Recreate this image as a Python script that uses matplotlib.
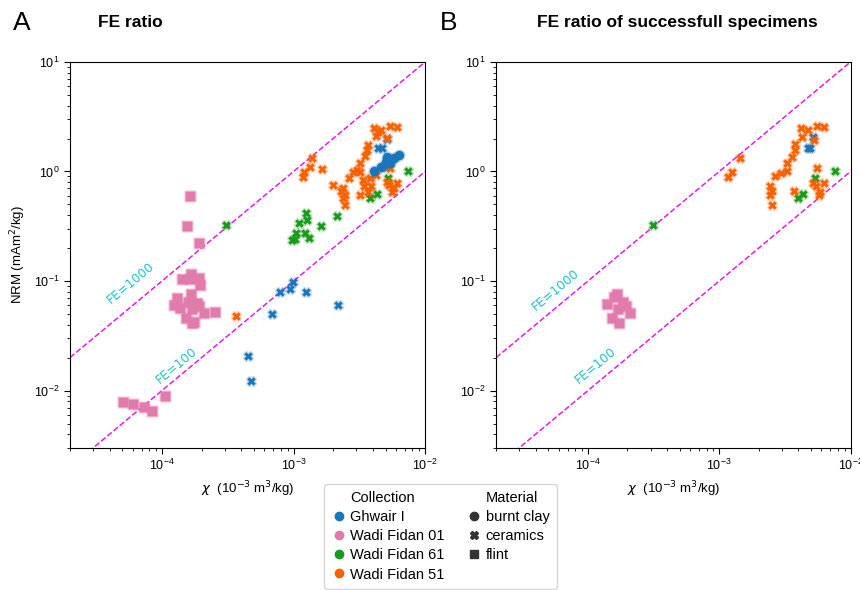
import numpy as np
import matplotlib
matplotlib.use('Agg')
import matplotlib.pyplot as plt
from matplotlib.lines import Line2D
from matplotlib.colors import to_rgba

plt.rcParams['font.family'] = ['Liberation Sans', 'DejaVu Sans']

# colours per collection
collections = ['Ghwair I', 'Wadi Fidan 01', 'Wadi Fidan 61', 'Wadi Fidan 51']
col_colors = ['#1b75bb', '#e17bac', '#1a9a1a', '#f86100']
materials = ['burnt clay', 'ceramics', 'flint']
mat_markers = ['o', 'X', 's']

# ---- panel A : all specimens ----
a_gh_clay_chi = [6.35e-3, 5.75e-3, 5.1e-3, 5.0e-3, 4.61e-3, 4.05e-3, 5.4e-3]
a_gh_clay_nrm = [1.41, 1.34, 1.36, 1.23, 1.11, 1.0, 1.19]
a_gh_cer_chi = [4.67e-3, 4.35e-3, 5.1e-3, 9.9e-4, 7.87e-4, 9.33e-4, 1.24e-3,
                2.18e-3, 6.81e-4, 4.54e-4, 4.78e-4, 5.05e-3]
a_gh_cer_nrm = [1.65, 1.63, 1.98, 0.0986, 0.0798, 0.084, 0.0789,
                0.060, 0.050, 0.0206, 0.0123, 1.1]
a_wf01_chi = [1.64e-4, 1.55e-4, 1.90e-4, 1.66e-4, 1.43e-4, 1.92e-4, 1.62e-4,
              1.96e-4, 1.66e-4, 1.31e-4, 1.24e-4, 1.38e-4, 1.58e-4, 1.84e-4,
              1.92e-4, 1.70e-4, 2.08e-4, 2.53e-4, 1.53e-4, 1.70e-4, 1.75e-4,
              5.09e-5, 6.03e-5, 7.26e-5, 8.4e-5, 1.06e-4]
a_wf01_nrm = [0.60, 0.318, 0.224, 0.117, 0.104, 0.107, 0.104,
              0.0914, 0.076, 0.0695, 0.060, 0.0563, 0.0647, 0.063,
              0.059, 0.0552, 0.0507, 0.052, 0.0456, 0.0416, 0.0425,
              0.00785, 0.00748, 0.00711, 0.00646, 0.00885]
a_wf61_chi = [3.09e-4, 1.25e-3, 1.10e-3, 1.27e-3, 1.62e-3, 2.15e-3, 1.05e-3,
              1.22e-3, 1.32e-3, 1.02e-3, 9.8e-4, 7.34e-3, 3.83e-3, 4.27e-3, 5.2e-3]
a_wf61_nrm = [0.327, 0.415, 0.339, 0.358, 0.318, 0.392, 0.272,
              0.272, 0.248, 0.24, 0.237, 1.02, 0.576, 0.619, 0.87]
a_wf51_chi = [3.63e-4, 4.05e-3, 4.6e-3, 5.37e-3, 6.1e-3, 4.2e-3, 5.1e-3, 4.4e-3,
              3.66e-3, 3.6e-3, 3.5e-3, 3.22e-3, 3.04e-3, 2.83e-3, 2.62e-3,
              3.22e-3, 3.8e-3, 4.25e-3, 3.35e-3, 3.4e-3, 3.85e-3, 3.7e-3, 3.2e-3,
              2.0e-3, 2.39e-3, 2.3e-3, 2.47e-3, 2.37e-3, 2.47e-3,
              5.27e-3, 6.1e-3, 5.4e-3, 5.1e-3, 5.6e-3, 5.75e-3,
              1.39e-3, 1.33e-3, 1.21e-3, 1.17e-3, 1.65e-3]
a_wf51_nrm = [0.048, 2.48, 2.39, 2.6, 2.53, 2.12, 2.04, 2.3,
              1.75, 1.57, 1.39, 1.19, 1.03, 0.98, 0.877,
              0.98, 0.877, 0.93, 0.836, 0.737, 0.737, 0.654, 0.61,
              0.753, 0.711, 0.664, 0.61, 0.577, 0.495,
              0.753, 0.78, 1.07, 0.807, 0.654, 0.70,
              1.32, 1.11, 0.98, 0.896, 1.05]

# ---- panel B : successful specimens ----
b_gh_cer_chi = [4.75e-3, 4.9e-3, 5.2e-3]
b_gh_cer_nrm = [1.63, 1.63, 2.08]
b_wf01_chi = [1.66e-4, 1.59e-4, 1.40e-4, 1.94e-4, 1.84e-4, 1.70e-4, 2.08e-4, 1.52e-4, 1.72e-4]
b_wf01_nrm = [0.0756, 0.071, 0.0613, 0.0595, 0.065, 0.055, 0.0507, 0.0456, 0.0418]
b_wf61_chi = [3.12e-4, 7.6e-3, 4.35e-3, 4.0e-3, 5.4e-3]
b_wf61_nrm = [0.324, 1.02, 0.62, 0.577, 0.88]
b_wf51_chi = [4.22e-3, 4.75e-3, 5.6e-3, 6.3e-3, 4.25e-3, 5.3e-3, 3.76e-3, 3.76e-3,
              3.6e-3, 3.3e-3, 3.3e-3, 2.96e-3, 2.68e-3, 2.42e-3, 2.5e-3, 2.45e-3,
              2.5e-3, 3.7e-3, 5.6e-3, 5.2e-3, 6.3e-3, 5.5e-3, 5.9e-3, 5.8e-3,
              1.43e-3, 1.24e-3, 1.17e-3]
b_wf51_nrm = [2.48, 2.39, 2.6, 2.53, 2.08, 1.94, 1.77, 1.57,
              1.36, 1.2, 1.01, 0.96, 0.90, 0.742, 0.664, 0.61,
              0.495, 0.664, 1.07, 0.78, 0.78, 0.73, 0.654, 0.61,
              1.32, 0.98, 0.896]

fe_values = [1000, 100]


def halo(c):
    r, g, b, _ = to_rgba(c)
    return (r, g, b, 0.28)


def draw_group(ax, chi, nrm, ci, mi):
    c = col_colors[ci]
    size = {'o': 46, 'X': 36, 's': 44}[mat_markers[mi]]
    ax.scatter(chi, nrm, s=size, marker=mat_markers[mi], color=c,
               edgecolors=[halo(c)], linewidths=2.0, zorder=3)


def style_axes(ax, letter, fe_pos):
    ax.set_xscale('log')
    ax.set_yscale('log')
    ax.set_xlim(2e-5, 1e-2)
    ax.set_ylim(3e-3, 10)
    xs = np.array([2e-5, 1e-2])
    for fe, (tx, ty) in zip(fe_values, fe_pos):
        ax.plot(xs, xs * fe, color='#e619e6', ls='--', lw=1.1, zorder=2)
        ax.text(tx, ty, 'FE=%d' % fe, color='#1cc2c8', fontsize=9,
                rotation=39.7, ha='center', va='center',
                family='DejaVu Sans')
    ax.set_xlabel(r'$\chi$  (10$^{-3}$ m$^3$/kg)', fontsize=9.5)
    ax.tick_params(which='major', labelsize=9, length=4, direction='out')
    ax.tick_params(which='minor', length=2)
    ax.text(-0.16, 1.1, letter, transform=ax.transAxes, fontsize=19,
            va='center', ha='left')


fig = plt.figure(figsize=(8.6, 5.9), dpi=100)
axA = fig.add_axes([0.0814, 0.241, 0.413, 0.654])
axB = fig.add_axes([0.577, 0.241, 0.412, 0.654])

draw_group(axA, a_wf01_chi, a_wf01_nrm, 1, 2)
draw_group(axA, a_wf61_chi, a_wf61_nrm, 2, 1)
draw_group(axA, a_gh_cer_chi, a_gh_cer_nrm, 0, 1)
draw_group(axA, a_wf51_chi, a_wf51_nrm, 3, 1)
draw_group(axA, a_gh_clay_chi, a_gh_clay_nrm, 0, 0)

draw_group(axB, b_wf01_chi, b_wf01_nrm, 1, 2)
draw_group(axB, b_wf61_chi, b_wf61_nrm, 2, 1)
draw_group(axB, b_gh_cer_chi, b_gh_cer_nrm, 0, 1)
draw_group(axB, b_wf51_chi, b_wf51_nrm, 3, 1)

style_axes(axA, 'A', [(5.8e-5, 0.096), (1.28e-4, 0.017)])
style_axes(axB, 'B', [(5.7e-5, 0.083), (1.15e-4, 0.017)])
axA.set_ylabel('NRM (mAm$^2$/kg)', fontsize=9.5)
axA.set_title('FE ratio', fontsize=12.5, fontweight='bold', loc='left', x=0.08, y=1.07)
axB.set_title('FE ratio of successfull specimens', fontsize=12.5, fontweight='bold',
              loc='center', x=0.51, y=1.07)

# legend
blank = Line2D([], [], linestyle='none', marker=None)
handles = [blank]
labels = ['Collection']
for c, name in zip(col_colors, collections):
    handles.append(Line2D([], [], ls='none', marker='o', color=c, markersize=6))
    labels.append(name)
handles.append(blank)
labels.append('Material')
for m, name in zip(mat_markers, materials):
    handles.append(Line2D([], [], ls='none', marker=m, color='#333333', markersize=6))
    labels.append(name)
handles.append(blank)
labels.append('')
fig.legend(handles, labels, ncol=2, loc='upper center', bbox_to_anchor=(0.512, 0.18),
           fontsize=10.5, handletextpad=0.3, handlelength=1.0, columnspacing=1.5,
           borderpad=0.5, borderaxespad=0.0, labelspacing=0.35, frameon=True,
           edgecolor='#cccccc', fancybox=True)

fig.savefig('out.png', dpi=100)
